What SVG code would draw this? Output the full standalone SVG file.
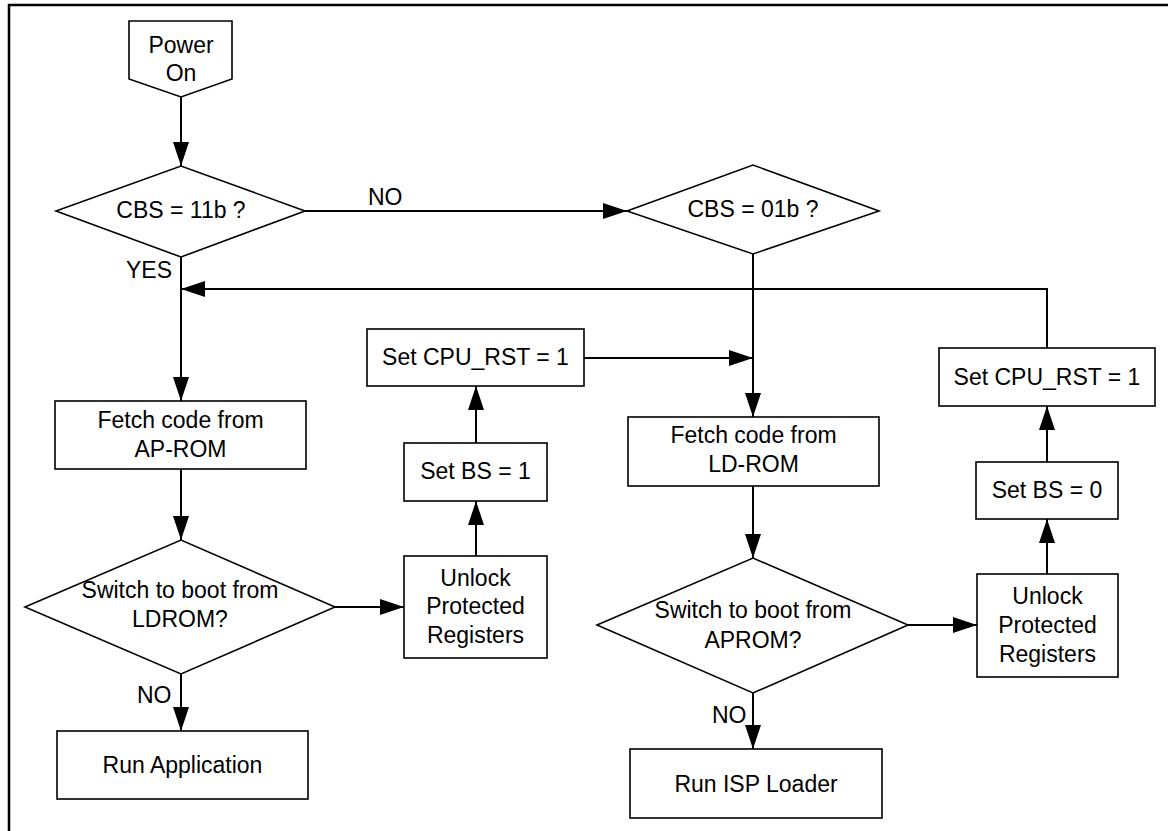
<svg xmlns="http://www.w3.org/2000/svg" width="1168" height="831" viewBox="0 0 1168 831">
<style>
  .shape { fill: #ffffff; stroke: #000000; stroke-width: 1.6; }
  .conn { fill: none; stroke: #000000; stroke-width: 2; }
  .arr { marker-end: url(#ah); }
  text { font-family: "Liberation Sans", Arial, sans-serif; font-size: 23px; fill: #000000; }
  .c { text-anchor: middle; }
  .frame { fill: none; stroke: #000000; stroke-width: 2.5; }
</style>
<defs>
  <marker id="ah" markerUnits="userSpaceOnUse" markerWidth="24" markerHeight="16" refX="24" refY="8" orient="auto">
    <path d="M0,0 L24,8 L0,16 Z" fill="#000000"/>
  </marker>
</defs>
<rect x="0" y="0" width="1168" height="831" fill="#ffffff"/>
<path class="frame" d="M9,831 V5 H1168"/>

<g id="connectors">
  <path class="conn arr" d="M181,97 V166"/>
  <path class="conn arr" d="M305,211 H627"/>
  <path class="conn arr" d="M181,257 V401"/>
  <path class="conn arr" d="M1047,348 V289 H181"/>
  <path class="conn arr" d="M753,254 V417"/>
  <path class="conn arr" d="M584,358 H753"/>
  <path class="conn arr" d="M181,469 V540"/>
  <path class="conn arr" d="M335,607 H404"/>
  <path class="conn arr" d="M476,556 V501"/>
  <path class="conn arr" d="M476,443 V386"/>
  <path class="conn arr" d="M181,674 V731"/>
  <path class="conn arr" d="M753,486 V558"/>
  <path class="conn arr" d="M908,625 H977"/>
  <path class="conn arr" d="M1047,574 V519"/>
  <path class="conn arr" d="M1047,462 V406"/>
  <path class="conn arr" d="M753,693 V749"/>
  <text x="368" y="205">NO</text>
  <text x="126" y="278">YES</text>
  <text x="137" y="703">NO</text>
  <text x="712" y="723">NO</text>
</g>

<g id="power-on">
  <polygon class="shape" points="129,21 232,21 232,79 181,97 129,79"/>
  <text class="c" x="181" y="53">Power</text>
  <text class="c" x="181" y="81">On</text>
</g>

<g id="cbs11b">
  <polygon class="shape" points="56,211 181,166 305,211 181,257"/>
  <text class="c" x="181" y="218">CBS = 11b ?</text>
</g>

<g id="cbs01b">
  <polygon class="shape" points="627,211 753,165 879,211 753,254"/>
  <text class="c" x="753" y="217">CBS = 01b ?</text>
</g>

<g id="fetch-aprom">
  <rect class="shape" x="55" y="401" width="251" height="68"/>
  <text class="c" x="180.5" y="428">Fetch code from</text>
  <text class="c" x="180.5" y="457">AP-ROM</text>
</g>

<g id="switch-ldrom">
  <polygon class="shape" points="25,607 181,540 335,607 181,674"/>
  <text class="c" x="180" y="598">Switch to boot from</text>
  <text class="c" x="180" y="627">LDROM?</text>
</g>

<g id="run-application">
  <rect class="shape" x="57" y="731" width="251" height="68"/>
  <text class="c" x="182.5" y="773">Run Application</text>
</g>

<g id="unlock-left">
  <rect class="shape" x="404" y="556" width="143" height="102"/>
  <text class="c" x="475.5" y="586">Unlock</text>
  <text class="c" x="475.5" y="614">Protected</text>
  <text class="c" x="475.5" y="643">Registers</text>
</g>

<g id="set-bs-1">
  <rect class="shape" x="404" y="443" width="143" height="58"/>
  <text class="c" x="475.5" y="479">Set BS = 1</text>
</g>

<g id="set-cpu-rst-left">
  <rect class="shape" x="367" y="329" width="217" height="57"/>
  <text class="c" x="475.5" y="365">Set CPU_RST = 1</text>
</g>

<g id="fetch-ldrom">
  <rect class="shape" x="628" y="417" width="251" height="69"/>
  <text class="c" x="753.5" y="443">Fetch code from</text>
  <text class="c" x="753.5" y="472">LD-ROM</text>
</g>

<g id="switch-aprom">
  <polygon class="shape" points="597,625 753,558 908,625 753,693"/>
  <text class="c" x="753" y="618">Switch to boot from</text>
  <text class="c" x="753" y="648">APROM?</text>
</g>

<g id="run-isp-loader">
  <rect class="shape" x="630" y="749" width="252" height="69"/>
  <text class="c" x="756" y="792">Run ISP Loader</text>
</g>

<g id="unlock-right">
  <rect class="shape" x="977" y="574" width="141" height="103"/>
  <text class="c" x="1047.5" y="604">Unlock</text>
  <text class="c" x="1047.5" y="633">Protected</text>
  <text class="c" x="1047.5" y="662">Registers</text>
</g>

<g id="set-bs-0">
  <rect class="shape" x="976" y="462" width="142" height="57"/>
  <text class="c" x="1047" y="498">Set BS = 0</text>
</g>

<g id="set-cpu-rst-right">
  <rect class="shape" x="939" y="348" width="216" height="58"/>
  <text class="c" x="1047" y="385">Set CPU_RST = 1</text>
</g>
</svg>
